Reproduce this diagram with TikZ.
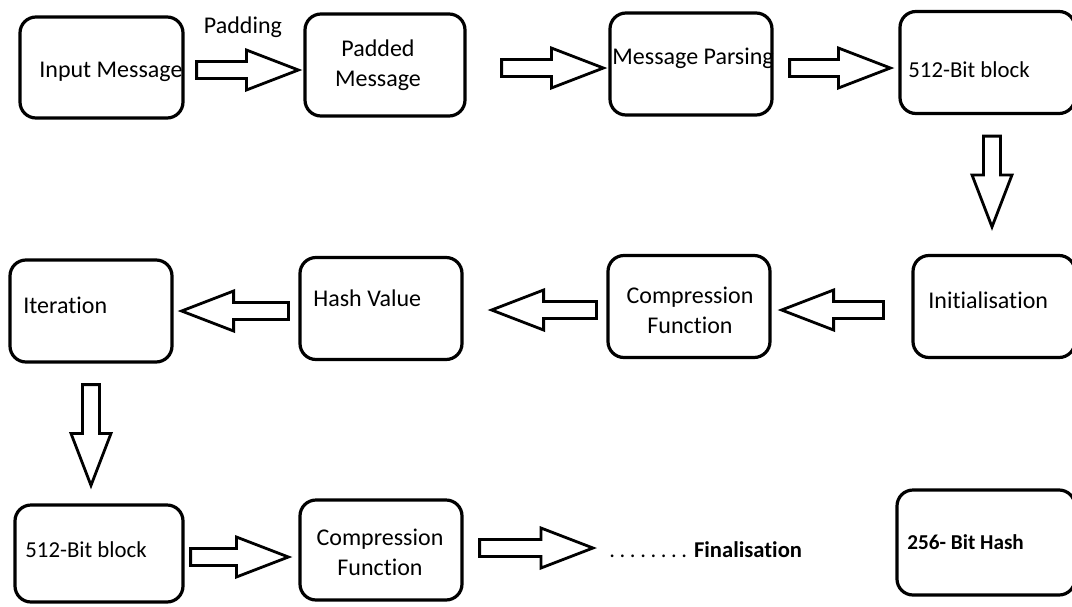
\documentclass[tikz,border=0pt]{standalone}
\usepackage{fontspec}
\setmainfont{Carlito}[Ligatures=NoCommon]
\usepackage{tikz}
\usetikzlibrary{calc}
\tikzstyle{box} = [draw, line width=1.6pt, rounded corners=8pt, minimum width=81pt, minimum height=51pt]
\tikzstyle{txt} = [inner sep=0pt, anchor=west, font=\fontsize{12}{15}\selectfont]
\tikzstyle{fat} = [draw, line width=1.4pt, line join=miter, fill=white]

% hollow block arrow from #1 to #2
\newcommand{\fatarrow}[2]{%
	\coordinate (fa-a) at (#1);
	\coordinate (fa-b) at (#2);
	\coordinate (fa-h) at ($(fa-b)!26pt!(fa-a)$);
	\path [fat] ($(fa-a)!4.25pt!90:(fa-b)$) -- ($(fa-h)!4.25pt!90:(fa-b)$)
		-- ($(fa-h)!10pt!90:(fa-b)$) -- (fa-b) -- ($(fa-h)!10pt!-90:(fa-b)$)
		-- ($(fa-h)!4.25pt!-90:(fa-b)$) -- ($(fa-a)!4.25pt!-90:(fa-b)$) -- cycle;}

\begin{document}
\begin{tikzpicture}[x=0.5pt, y=-0.5pt]
	\useasboundingbox (0,0) rectangle (1072,606);

	% boxes
	\node [box, minimum width=81.5pt, minimum height=50.5pt] (inmsg) at (101.5,67.5) {};
	\node [box, minimum width=80pt] (padded) at (385,65) {};
	\node [box] (parse) at (691,64) {};
	\node [box, minimum width=87.5pt] (blk1) at (987.5,62.5) {};
	\node [box] (init) at (994,306.5) {};
	\node [box] (comp1) at (689,306.5) {};
	\node [box] (hash) at (381,308.5) {};
	\node [box] (iter) at (91,311) {};
	\node [box, minimum width=84pt, minimum height=48.5pt] (blk2) at (99,553.5) {};
	\node [box, minimum height=50pt] (comp2) at (381,550) {};
	\node [box, minimum width=89pt, minimum height=52.5pt] (hash256) at (986,542.5) {};

	% texts
	\node [txt, anchor=center] (padlbl) at (243,27) {Padding};
	\node [txt] (inmsg-t) at (39,72) {Input Message};
	\node [txt, anchor=center, align=center] (padded-t) at (378,65) {Padded\\Message};
	\node [txt] (parse-t) at (612,58) {Message Parsing};
	\node [txt, font=\fontsize{11.4}{14}\selectfont] (blk1-t) at (908,70) {512-Bit block};
	\node [txt] (init-t) at (928,300) {Initialisation};
	\node [txt, anchor=center, align=center] (comp1-t) at (690,310) {Compression\\Function};
	\node [txt] (hash-t) at (313,298) {Hash Value};
	\node [txt] (iter-t) at (23,305) {Iteration};
	\node [txt, font=\fontsize{11.4}{14}\selectfont] (blk2-t) at (25,550) {512-Bit block};
	\node [txt, anchor=center, align=center] (comp2-t) at (380,552) {Compression\\Function};
	\node [txt, font=\fontsize{11.3}{14}\selectfont] (final) at (609,550)
		{.\hspace{2.3pt}.\hspace{2.3pt}.\hspace{2.3pt}.\hspace{2.3pt}.\hspace{2.3pt}.\hspace{2.3pt}.\hspace{2.3pt}. \textbf{Finalisation}};
	\node [txt, font=\fontsize{10.6}{13}\selectfont] (hash256-t) at (907,542) {\textbf{256- Bit Hash}};

	% arrows
	\fatarrow{$(inmsg.east)+(12,2.5)$}{$(padded.west)+(-5,5)$}
	\fatarrow{$(padded.east)+(35,3)$}{$(parse.west)+(-5,4)$}
	\fatarrow{$(parse.east)+(16,4)$}{$(blk1.west)+(-8,5.5)$}
	\fatarrow{$(blk1.south)+(4.5,21)$}{$(init.north)+(-2,-27)$}
	\fatarrow{$(init.west)+(-28,3.5)$}{$(comp1.east)+(10,3.5)$}
	\fatarrow{$(comp1.west)+(-10,3.5)$}{$(hash.east)+(28,1.5)$}
	\fatarrow{$(hash.west)+(-10,2.5)$}{$(iter.east)+(8,0)$}
	\fatarrow{$(iter.south)+(0,21)$}{$(blk2.north)+(-8,-18)$}
	\fatarrow{$(blk2.east)+(6,3.5)$}{$(comp2.west)+(-10,7)$}
	\fatarrow{$(comp2.east)+(16,-2)$}{$(final.west)+(-16,-2)$}
\end{tikzpicture}
\end{document}
